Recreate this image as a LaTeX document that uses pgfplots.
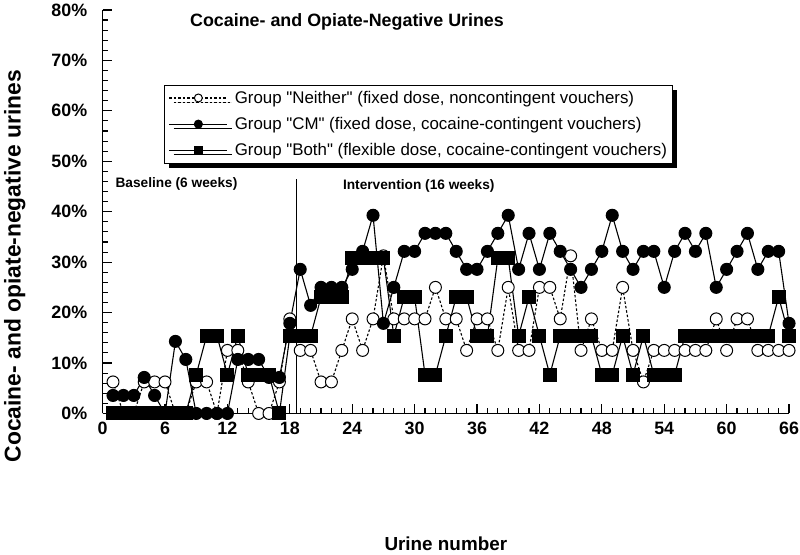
\documentclass[border=0pt]{standalone}
\usepackage{fontspec}
\setmainfont{Liberation Sans}
\usepackage{pgfplots}
\usepackage{pgfplotstable}
\pgfplotsset{compat=1.18}
\usetikzlibrary{shadows}

% urine number, % negative for each group
\pgfplotstableread{
x  neither cm    both
1  6.25    3.57  0
2  0       3.57  0
3  0       3.57  0
4  6.25    7.14  0
5  6.25    3.57  0
6  6.25    0     0
7  0       14.29 0
8  0       10.71 0
9  6.25    0     7.69
10 6.25    0     15.38
11 0       0     15.38
12 12.5    0     7.69
13 12.5    10.71 15.38
14 6.25    10.71 7.69
15 0       10.71 7.69
16 0       7.14  7.69
17 6.25    7.14  0
18 18.75   17.86 15.38
19 12.5    28.57 15.38
20 12.5    21.43 15.38
21 6.25    25    23.08
22 6.25    25    23.08
23 12.5    25    23.08
24 18.75   28.57 30.77
25 12.5    32.14 30.77
26 18.75   39.29 30.77
27 31.25   17.86 30.77
28 18.75   25    15.38
29 18.75   32.14 23.08
30 18.75   32.14 23.08
31 18.75   35.71 7.69
32 25      35.71 7.69
33 18.75   35.71 15.38
34 18.75   32.14 23.08
35 12.5    28.57 23.08
36 18.75   28.57 15.38
37 18.75   32.14 15.38
38 12.5    35.71 30.77
39 25      39.29 30.77
40 12.5    28.57 15.38
41 12.5    35.71 23.08
42 25      28.57 15.38
43 25      35.71 7.69
44 18.75   32.14 15.38
45 31.25   28.57 15.38
46 12.5    25    15.38
47 18.75   28.57 15.38
48 12.5    32.14 7.69
49 12.5    39.29 7.69
50 25      32.14 15.38
51 12.5    28.57 7.69
52 6.25    32.14 15.38
53 12.5    32.14 7.69
54 12.5    25    7.69
55 12.5    32.14 7.69
56 12.5    35.71 15.38
57 12.5    32.14 15.38
58 12.5    35.71 15.38
59 18.75   25    15.38
60 12.5    28.57 15.38
61 18.75   32.14 15.38
62 18.75   35.71 15.38
63 12.5    28.57 15.38
64 12.5    32.14 15.38
65 12.5    32.14 23.08
66 12.5    17.86 15.38
}\urines

\begin{document}
\begin{tikzpicture}
\useasboundingbox (-103bp,-142bp) rectangle (700bp,415bp);
\begin{axis}[
    scale only axis,
    width=689bp, height=405bp,
    xmin=0, xmax=66, ymin=0, ymax=80,
    axis lines*=left,
    axis line style={line width=1.2bp},
    xtick={0,6,...,66}, ytick={0,10,...,80},
    minor x tick num=5, minor y tick num=4,
    tick align=inside,
    major tick length=9bp, minor tick length=5bp,
    tick style={black, line width=1.1bp},
    yticklabel={\pgfmathprintnumber{\tick}\%},
    /pgf/number format/assume math mode=true,
    tick label style={font=\bfseries\fontsize{18}{18}\selectfont},
    xticklabel style={yshift=-5bp},
    yticklabel style={xshift=-12bp},
    xlabel={Urine number},
    ylabel={Cocaine- and opiate-negative urines},
    xlabel style={font=\bfseries\fontsize{19}{19}\selectfont, at={(axis description cs:0.5,0)}, anchor=base, yshift=-138bp},
    ylabel style={font=\bfseries\fontsize{23}{23}\selectfont, at={(axis description cs:-0.128,0.365)}, anchor=center},
    legend style={at={(0.09,0.815)}, anchor=north west, draw=black, line width=1.1bp,
        fill=white, font=\fontsize{17}{18}\selectfont, inner sep=4bp, row sep=8.5bp,
        drop shadow={shadow xshift=4.5bp, shadow yshift=-4.5bp, fill=black, opacity=1}},
    legend cell align=left,
    legend image code/.code={
        \draw[mark=none] (0bp,0bp) -- (58bp,0bp);
        \draw[mark size=4bp] plot coordinates {(29bp,0bp)};
        \path (63bp,0bp);},
]
\addplot[black, line width=1.1bp, dash pattern=on 2.5bp off 2bp, mark=*, mark size=6bp,
    mark options={solid, fill=white, line width=1bp}] table[x=x, y=neither] {\urines};
\addlegendentry{Group \textquotedbl Neither\textquotedbl\ (fixed dose, noncontingent vouchers)}
\addplot[black, line width=1.1bp, mark=*, mark size=6bp, mark options={fill=black}] table[x=x, y=cm] {\urines};
\addlegendentry{Group \textquotedbl CM\textquotedbl\ (fixed dose, cocaine-contingent vouchers)}
\addplot[black, line width=1.1bp, mark=square*, mark size=6.5bp, mark options={fill=black}] table[x=x, y=both] {\urines};
\addlegendentry{Group \textquotedbl Both\textquotedbl\ (flexible dose, cocaine-contingent vouchers)}
\addplot[black, line width=1.1bp, no marks, forget plot] coordinates {(18.6,0) (18.6,46.4)};
\node[font=\bfseries\fontsize{18}{18}\selectfont] at (axis cs:23.5,77.6) {Cocaine- and Opiate-Negative Urines};
\node[font=\bfseries\fontsize{13.8}{13.8}\selectfont] at (axis cs:7.1,45.5) {Baseline (6 weeks)};
\node[font=\bfseries\fontsize{13.8}{13.8}\selectfont] at (axis cs:30.4,45.2) {Intervention (16 weeks)};
\end{axis}
\end{tikzpicture}
\end{document}
